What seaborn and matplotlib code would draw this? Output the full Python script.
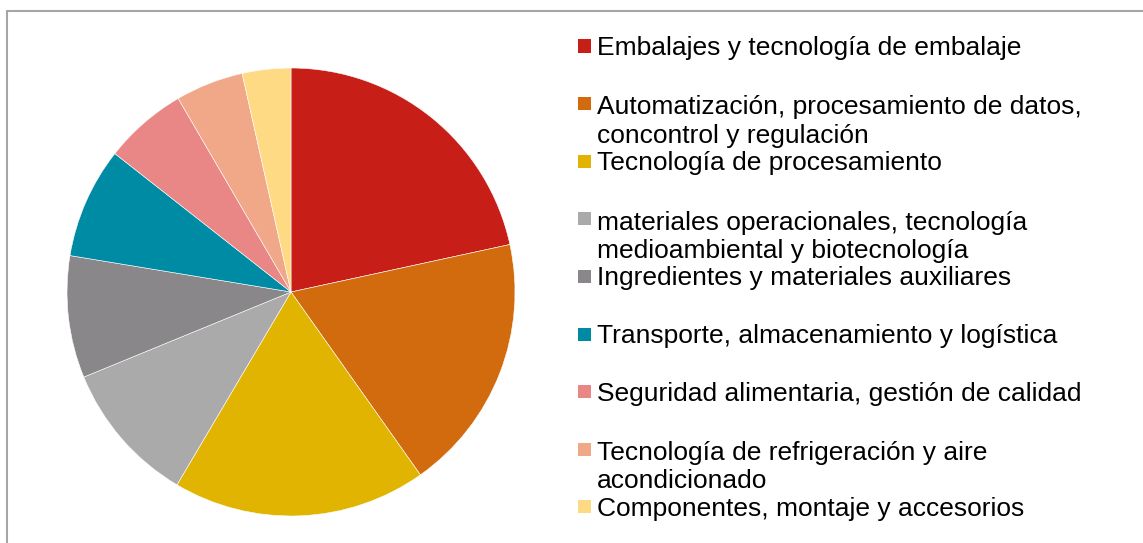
import matplotlib
matplotlib.use("Agg")
import matplotlib.pyplot as plt
from matplotlib.patches import Rectangle
import seaborn as sns

categories = [
    "Embalajes y tecnología de embalaje",
    "Automatización, procesamiento de datos,\nconcontrol y regulación",
    "Tecnología de procesamiento",
    "materiales operacionales, tecnología\nmedioambiental y biotecnología",
    "Ingredientes y materiales auxiliares",
    "Transporte, almacenamiento y logística",
    "Seguridad alimentaria, gestión de calidad",
    "Tecnología de refrigeración y aire\nacondicionado",
    "Componentes, montaje y accesorios",
]
shares = [21.6, 18.6, 18.3, 10.3, 8.8, 8.0, 6.0, 4.9, 3.5]
colors = ["#C81E18", "#D26B0E", "#E0B400", "#AAAAAA", "#89878A",
          "#008BA5", "#E88785", "#F0A888", "#FFDA85"]

sns.set_style("white")
plt.rcParams["font.family"] = ["Liberation Sans", "DejaVu Sans"]

W, H = 1143, 543
fig = plt.figure(figsize=(W / 100, H / 100), dpi=100)

# pie area (pixels): center (291, 292), radius 224
cx, cy, r = 291, 292, 224
ax = fig.add_axes([(cx - r) / W, (H - cy - r) / H, 2 * r / W, 2 * r / H])
ax.pie(shares, colors=colors, startangle=90, counterclock=False,
       wedgeprops=dict(edgecolor="white", linewidth=0.4))
ax.set_xlim(-1, 1)
ax.set_ylim(-1, 1)
ax.set_aspect("equal")
ax.axis("off")

# legend drawn by hand: each entry gets a two-line slot
x_box, x_text = 578, 597
box = 13
y0, step = 55, 57.6
line_gap = 30
for i, (lab, col) in enumerate(zip(categories, colors)):
    yb = y0 + i * step
    fig.patches.append(Rectangle((x_box / W, 1 - (yb - 9 + box / 2) / H),
                                 box / W, box / H, transform=fig.transFigure,
                                 facecolor=col, edgecolor="none"))
    n_extra = lab.count("\n")
    fig.text(x_text / W, 1 - (yb + n_extra * line_gap) / H, lab, fontsize=19,
             va="baseline", ha="left", color="black", linespacing=1.225)

# chart frame (only top and left edges visible in the crop)
fig.patches.append(Rectangle((7 / W, -0.1), 1.2, 1.1 - 11 / H,
                             transform=fig.transFigure, fill=False,
                             edgecolor="#A6A6A6", linewidth=1.5))

fig.savefig("out.png", dpi=100)
